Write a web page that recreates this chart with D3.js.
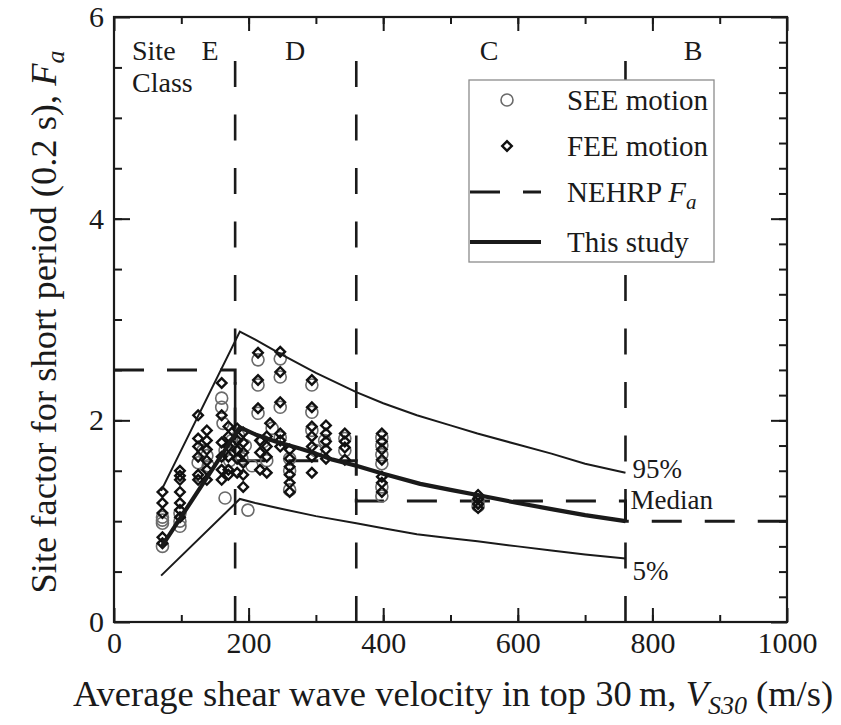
<!DOCTYPE html>
<html>
<head>
<meta charset="utf-8">
<script src="https://cdn.jsdelivr.net/npm/d3@7"></script>
<style>
  html, body { margin: 0; padding: 0; background: #fff; }
  svg text { font-family: "Liberation Serif", "Times New Roman", serif; fill: #1a1a1a; }
</style>
</head>
<body>
<svg id="chart" width="841" height="725"></svg>
<script>
// ---- data ----
const xTicks = [0, 200, 400, 600, 800, 1000];
const yTicks = [0, 2, 4, 6];
const siteBounds = [180, 360, 760];
const siteClasses = ["E", "D", "C", "B"];

// NEHRP Fa step function
const nehrpVs = [0, 180, 180, 360, 360, 760, 760, 1000];
const nehrpFa = [2.5, 2.5, 1.6, 1.6, 1.2, 1.2, 1.0, 1.0];

// Proposed model: median, 95% and 5% curves
const medianVs = [70, 187, 210, 240, 276, 300, 325, 360, 400, 455, 500, 540, 600, 650, 700, 760];
const medianFa = [0.74, 1.93, 1.86, 1.79, 1.72, 1.67, 1.61, 1.55, 1.47, 1.37, 1.31, 1.26, 1.18, 1.12, 1.06, 1.0];
const upperVs = [70, 187, 210, 250, 300, 360, 400, 450, 500, 540, 600, 650, 700, 760];
const upperFa = [1.30, 2.88, 2.80, 2.65, 2.47, 2.28, 2.17, 2.05, 1.95, 1.87, 1.76, 1.67, 1.57, 1.48];
const lowerVs = [70, 187, 210, 250, 300, 360, 400, 450, 500, 540, 600, 650, 700, 760];
const lowerFa = [0.46, 1.22, 1.18, 1.12, 1.05, 0.98, 0.93, 0.87, 0.83, 0.80, 0.75, 0.71, 0.67, 0.63];

// SEE motion results [Vs30, Fa]
const seePoints = [
  [72, 1.04], [72, 0.98], [72, 0.75], [72, 1.01],
  [98, 0.95], [98, 1.08], [98, 1.00],
  [125, 1.58], [128, 1.45], [138, 1.65], [140, 1.55], [132, 1.70],
  [160, 2.22], [160, 2.13], [162, 1.97], [165, 1.70], [165, 1.23], [172, 1.60], [175, 1.80],
  [185, 1.85], [190, 1.62], [199, 1.11], [195, 1.75], [205, 1.55],
  [214, 2.60], [214, 2.35], [214, 2.07], [222, 1.79], [227, 1.60], [235, 1.92],
  [247, 2.61], [247, 2.43], [247, 2.13], [247, 1.83],
  [261, 1.31], [261, 1.62], [261, 1.50],
  [294, 2.35], [294, 2.08], [300, 1.70], [313, 1.80], [294, 1.90],
  [343, 1.70], [343, 1.82],
  [398, 1.83], [398, 1.75], [398, 1.66], [398, 1.57], [398, 1.34], [398, 1.25],
  [541, 1.15], [541, 1.20]
];

// FEE motion results [Vs30, Fa]
const feePoints = [
  [72, 1.29], [72, 1.18], [72, 1.08], [72, 0.84], [72, 0.78],
  [98, 1.50], [98, 1.45], [98, 1.41], [98, 1.29], [98, 1.18], [98, 1.11], [98, 1.04],
  [125, 2.05], [125, 1.82], [125, 1.74], [125, 1.64], [125, 1.46], [125, 1.41],
  [138, 1.90], [138, 1.80], [138, 1.71], [138, 1.60], [138, 1.51], [138, 1.41],
  [160, 2.37], [160, 2.05], [160, 1.78], [160, 1.64], [160, 1.51], [160, 1.41],
  [170, 1.94], [170, 1.84], [170, 1.74], [170, 1.64], [170, 1.51], [170, 1.46],
  [183, 1.92], [183, 1.80], [183, 1.70], [183, 1.62], [183, 1.48],
  [192, 1.88], [192, 1.78], [192, 1.68], [192, 1.58], [192, 1.46], [192, 1.34],
  [214, 2.67], [214, 2.40], [214, 2.12], [217, 1.80], [217, 1.68], [217, 1.51],
  [227, 1.84], [227, 1.74], [227, 1.64], [227, 1.48], [232, 1.97],
  [247, 2.68], [247, 2.48], [247, 2.18], [247, 1.87], [247, 1.80], [247, 1.74],
  [261, 1.71], [261, 1.62], [261, 1.54], [261, 1.46], [261, 1.38], [261, 1.29],
  [294, 2.40], [294, 2.13], [294, 1.94], [294, 1.84], [294, 1.74], [294, 1.64], [294, 1.48],
  [315, 1.95], [315, 1.87], [315, 1.79], [315, 1.71], [315, 1.62],
  [343, 1.87], [343, 1.79], [343, 1.73], [343, 1.61],
  [398, 1.87], [398, 1.79], [398, 1.71], [398, 1.61], [398, 1.44], [398, 1.38], [398, 1.29],
  [541, 1.26], [541, 1.22], [541, 1.17], [541, 1.13]
];

// ---- layout ----
const svg = d3.select("#chart");
const x = d3.scaleLinear().domain([0, 1000]).range([114, 787]);
const y = d3.scaleLinear().domain([0, 6]).range([622, 17]);
const FS = 28;
const SERIF = "'Liberation Serif', 'Times New Roman', serif";
const ink = "#1a1a1a";

// vertical site class boundaries
const boundLine = d3.line().x(d => x(d[0])).y(d => y(d[1]));
siteBounds.forEach(v => {
  svg.append("path")
    .attr("d", boundLine([[v, 0], [v, 5.58]]))
    .attr("fill", "none").attr("stroke", ink).attr("stroke-width", 2.6)
    .attr("stroke-dasharray", "26,27.5");
});

// NEHRP Fa
const nehrpLine = d3.line().x(d => x(d[0])).y(d => y(d[1]));
svg.append("path")
  .attr("d", nehrpLine(nehrpVs.map((v, i) => [v, nehrpFa[i]])))
  .attr("fill", "none").attr("stroke", ink).attr("stroke-width", 3)
  .attr("stroke-dasharray", "30,23");

// data points
const ptG = svg.append("g");
ptG.selectAll("circle").data(seePoints).join("circle")
  .attr("cx", d => x(d[0])).attr("cy", d => y(d[1])).attr("r", 6)
  .attr("fill", "none").attr("stroke", "#6a6a6a").attr("stroke-width", 1.6);
const diamond = d3.symbol().type(d3.symbolSquare).size(46);
ptG.selectAll("path.fee").data(feePoints).join("path").attr("class", "fee")
  .attr("d", diamond)
  .attr("transform", d => `translate(${x(d[0])},${y(d[1])}) rotate(45)`)
  .attr("fill", "none").attr("stroke", "#111").attr("stroke-width", 2.4);

// model curves
const curve = d3.line().x(d => x(d[0])).y(d => y(d[1]));
svg.append("path").attr("d", curve(upperVs.map((v, i) => [v, upperFa[i]])))
  .attr("fill", "none").attr("stroke", ink).attr("stroke-width", 2);
svg.append("path").attr("d", curve(lowerVs.map((v, i) => [v, lowerFa[i]])))
  .attr("fill", "none").attr("stroke", ink).attr("stroke-width", 2);
svg.append("path").attr("d", curve(medianVs.map((v, i) => [v, medianFa[i]])))
  .attr("fill", "none").attr("stroke", ink).attr("stroke-width", 4.2)
  .attr("stroke-linejoin", "round");

// curve labels
const lastOf = a => a[a.length - 1];
svg.append("text").attr("x", x(760) + 7).attr("y", y(lastOf(upperFa)) + 5)
  .attr("font-size", 27).text("95%");
svg.append("text").attr("x", x(760) + 5).attr("y", y(lastOf(medianFa)) - 12)
  .attr("font-size", 27).text("Median");
svg.append("text").attr("x", x(760) + 7).attr("y", y(lastOf(lowerFa)) + 22)
  .attr("font-size", 27).text("5%");

// axes (ticks on all four sides, pointing inward)
function styleAxis(g) {
  g.select(".domain").remove();
  g.attr("font-family", null).attr("font-size", null);
  g.selectAll(".tick line").attr("stroke", ink).attr("stroke-width", 2);
  g.selectAll(".tick text").attr("fill", ink)
    .style("font-family", SERIF).style("font-size", "30px");
}
const xMinor = d3.range(100, 1000, 100);
const yMinorL = d3.range(0.5, 6, 0.5);
const yMinorR = d3.range(0.25, 6, 0.25);

svg.append("g").attr("transform", `translate(0,${y(0)})`)
  .call(d3.axisBottom(x).tickValues(xMinor).tickSize(-7).tickFormat("")).call(styleAxis);
svg.append("g").attr("transform", `translate(0,${y(0)})`)
  .call(d3.axisBottom(x).tickValues(xTicks).tickSize(-14).tickPadding(10).tickFormat(d3.format("d")))
  .call(styleAxis);
svg.append("g").attr("transform", `translate(0,${y(6)})`)
  .call(d3.axisTop(x).tickValues(xMinor).tickSize(-7).tickFormat("")).call(styleAxis);
svg.append("g").attr("transform", `translate(0,${y(6)})`)
  .call(d3.axisTop(x).tickValues(xTicks).tickSize(-14).tickFormat("")).call(styleAxis);

svg.append("g").attr("transform", `translate(${x(0)},0)`)
  .call(d3.axisLeft(y).tickValues(yMinorL).tickSize(-8).tickFormat("")).call(styleAxis);
svg.append("g").attr("transform", `translate(${x(0)},0)`)
  .call(d3.axisLeft(y).tickValues(yTicks).tickSize(-16).tickPadding(10).tickFormat(d3.format("d")))
  .call(styleAxis);
svg.append("g").attr("transform", `translate(${x(1000)},0)`)
  .call(d3.axisRight(y).tickValues(yMinorR).tickSize(-8).tickFormat("")).call(styleAxis);
svg.append("g").attr("transform", `translate(${x(1000)},0)`)
  .call(d3.axisRight(y).tickValues(yTicks).tickSize(-16).tickFormat("")).call(styleAxis);

// frame
svg.append("rect").attr("x", x(0)).attr("y", y(6))
  .attr("width", x(1000) - x(0)).attr("height", y(0) - y(6))
  .attr("fill", "none").attr("stroke", ink).attr("stroke-width", 2.2);

// site class annotations
svg.append("text").attr("x", 132).attr("y", 60).attr("font-size", FS).text("Site");
svg.append("text").attr("x", 132).attr("y", 92).attr("font-size", FS).text("Class");
const classX = [210, 295, 489, 693];
siteClasses.forEach((c, i) => {
  svg.append("text").attr("x", classX[i]).attr("y", 60).attr("text-anchor", "middle")
    .attr("font-size", FS).text(c);
});

// legend
const lg = svg.append("g");
lg.append("rect").attr("x", 469).attr("y", 80).attr("width", 245).attr("height", 182)
  .attr("fill", "#fff").attr("stroke", "#8c8c8c").attr("stroke-width", 1.3);
const rowY = [100, 146, 192, 242];
lg.append("circle").attr("cx", 507).attr("cy", rowY[0]).attr("r", 6)
  .attr("fill", "none").attr("stroke", "#6a6a6a").attr("stroke-width", 1.6);
lg.append("path").attr("d", diamond)
  .attr("transform", `translate(507,${rowY[1]}) rotate(45)`)
  .attr("fill", "none").attr("stroke", "#111").attr("stroke-width", 2.4);
lg.append("line").attr("x1", 470).attr("x2", 541).attr("y1", rowY[2]).attr("y2", rowY[2])
  .attr("stroke", ink).attr("stroke-width", 3).attr("stroke-dasharray", "30,23");
lg.append("line").attr("x1", 470).attr("x2", 541).attr("y1", rowY[3]).attr("y2", rowY[3])
  .attr("stroke", ink).attr("stroke-width", 4.2);
const lgText = (i, parts) => {
  const t = lg.append("text").attr("x", 567).attr("y", rowY[i] + 10).attr("font-size", 29);
  parts.forEach(p => {
    const s = t.append("tspan").text(p.t);
    if (p.i) s.attr("font-style", "italic");
    if (p.dy) s.attr("dy", p.dy);
    if (p.fs) s.attr("font-size", p.fs);
  });
};
lgText(0, [{ t: "SEE motion" }]);
lgText(1, [{ t: "FEE motion" }]);
lgText(2, [{ t: "NEHRP " }, { t: "F", i: true }, { t: "a", i: true, dy: 7, fs: 21 }]);
lgText(3, [{ t: "This study" }]);

// axis titles
const xt = svg.append("text").attr("x", 453).attr("y", 706).attr("text-anchor", "middle")
  .attr("font-size", 36.5);
xt.append("tspan").text("Average shear wave velocity in top 30\u2009m, ");
xt.append("tspan").attr("font-style", "italic").text("V");
xt.append("tspan").attr("font-style", "italic").attr("font-size", 26).attr("dy", 8).text("S30");
xt.append("tspan").attr("dy", -8).text(" (m/s)");

const yt = svg.append("text").attr("transform", `translate(56,322) rotate(-90)`)
  .attr("text-anchor", "middle").attr("font-size", 36.5);
yt.append("tspan").text("Site factor for short period (0.2 s), ");
yt.append("tspan").attr("font-style", "italic").text("F");
yt.append("tspan").attr("font-style", "italic").attr("font-size", 26).attr("dy", 8).text("a");
</script>
</body>
</html>
